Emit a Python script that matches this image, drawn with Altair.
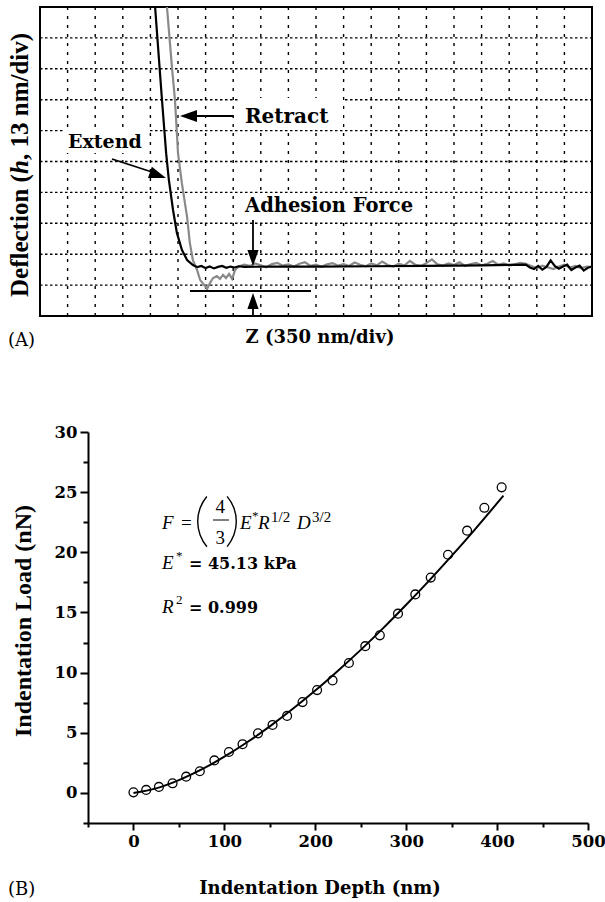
import altair as alt
import pandas as pd

# ---------------- Panel A: AFM force curve (grid divisions) ----------------
# Z in divisions (350 nm/div), deflection in divisions (13 nm/div)
extend_z = [4.17, 4.42, 4.57, 4.67, 4.82, 4.96, 5.14, 5.33, 5.54, 5.70, 5.85, 6.00,
            6.15, 6.30, 6.45, 6.60, 6.75, 6.90, 7.05, 7.20, 7.40, 8.50, 10.0, 12.0,
            14.0, 16.0, 17.60, 17.75, 17.90, 18.05, 18.20, 18.35, 18.50, 18.65, 18.80,
            18.95, 19.10, 19.25, 19.40, 19.55, 19.70, 19.85, 20.0]
extend_defl = [10.0, 6.99, 5.27, 4.40, 3.43, 2.69, 2.14, 1.81, 1.65, 1.58, 1.62, 1.55,
               1.60, 1.54, 1.59, 1.62, 1.56, 1.60, 1.57, 1.61, 1.59, 1.60, 1.60, 1.61,
               1.62, 1.64, 1.66, 1.57, 1.52, 1.62, 1.50, 1.59, 1.80, 1.62, 1.53,
               1.60, 1.66, 1.49, 1.57, 1.63, 1.47, 1.56, 1.60]

retract_z = [4.60, 4.78, 4.89, 4.96, 5.00, 5.14, 5.33, 5.43, 5.54, 5.69, 5.80, 5.98,
             6.05, 6.16, 6.27, 6.41, 6.52, 6.63, 6.74, 6.85, 6.96, 7.07,
             7.2, 7.4, 7.6, 7.8, 8.0, 8.2, 8.4, 8.6, 8.8, 9.0, 9.2, 9.4, 9.6, 9.8,
             10.0, 10.2, 10.4, 10.6, 10.8, 11.0, 11.2, 11.4, 11.6, 11.8, 12.0, 12.2,
             12.4, 12.6, 12.8, 13.0, 13.2, 13.4, 13.6, 13.8, 14.0, 14.2, 14.4, 14.6,
             14.8, 15.0, 15.2, 15.4, 15.6, 15.8, 16.0, 16.2, 16.4, 16.6, 16.8, 17.0,
             17.2, 17.4, 17.6, 17.8, 18.0, 18.2, 18.4, 18.6, 18.8, 19.0, 19.2, 19.4,
             19.6, 19.8, 20.0]
retract_defl = [10.0, 8.06, 6.99, 5.92, 5.27, 4.30, 3.20, 2.36, 1.81, 1.49, 1.17, 0.97,
                0.87, 1.07, 1.23, 1.29, 1.20, 1.33, 1.23, 1.36, 1.20, 1.49,
                1.60, 1.66, 1.62, 1.70, 1.64, 1.58, 1.68, 1.72, 1.63, 1.67, 1.60, 1.69,
                1.74, 1.62, 1.66, 1.59, 1.67, 1.71, 1.63, 1.68, 1.62, 1.73, 1.66, 1.61,
                1.70, 1.64, 1.76, 1.65, 1.60, 1.69, 1.63, 1.78, 1.66, 1.62, 1.71, 1.83,
                1.67, 1.63, 1.70, 1.65, 1.74, 1.62, 1.68, 1.72, 1.64, 1.69, 1.78, 1.66,
                1.70, 1.63, 1.67, 1.72, 1.69, 1.62, 1.55, 1.63, 1.58, 1.52, 1.60, 1.66,
                1.57, 1.62, 1.55, 1.60, 1.58]

grid_z = [1, 2, 3, 4, 5, 6, 7, 8, 9, 10, 11, 12, 13, 14, 15, 16, 17, 18, 19]
grid_defl = [1, 2, 3, 4, 5, 6, 7, 8, 9]

# ---------------- Panel B: indentation load vs depth ----------------
depth_nm = [0, 14, 28, 43, 58, 73, 89, 105, 120, 137, 153, 169, 186, 202, 219, 237,
            255, 271, 291, 310, 327, 346, 367, 386, 405]
load_nN = [0.05, 0.25, 0.5, 0.8, 1.35, 1.8, 2.7, 3.4, 4.05, 4.95, 5.65, 6.4, 7.55,
           8.55, 9.35, 10.8, 12.2, 13.1, 14.9, 16.5, 17.9, 19.8, 21.8, 23.7, 25.4]
fit_depth = [0, 25, 50, 75, 100, 125, 150, 175, 200, 225, 250, 275, 300, 325, 350,
             375, 407]
fit_load = [0.0, 0.38, 1.06, 1.95, 3.01, 4.21, 5.53, 6.97, 8.51, 10.16, 11.89, 13.72,
            15.64, 17.63, 19.70, 21.85, 24.71]

x_major = [0, 100, 200, 300, 400, 500]
x_minor = [-50, 50, 150, 250, 350, 450]
y_major = [0, 5, 10, 15, 20, 25, 30]
y_minor = [-2.5, 2.5, 7.5, 12.5, 17.5, 22.5, 27.5]

DJ = "DejaVu Serif"
LIB = "Liberation Serif"
ONE = pd.DataFrame({"a": [0]})

xA = alt.Scale(domain=[0, 20], range=[40, 592], nice=False, zero=False)
yA = alt.Scale(domain=[0, 10], range=[316, 7], nice=False, zero=False)
xB = alt.Scale(domain=[-50, 500], range=[88, 588], nice=False, zero=False)
yB = alt.Scale(domain=[-2.5, 30], range=[823, 432], nice=False, zero=False)


def XA(f):
    return alt.X(f, type="quantitative", scale=xA, axis=None)


def YA(f):
    return alt.Y(f, type="quantitative", scale=yA, axis=None)


def label(s, x, y, size, font=DJ, weight="normal", style="normal",
          align="left", baseline="alphabetic", angle=0):
    kw = dict(font=font, fontSize=size, fontWeight=weight, fontStyle=style,
              align=align, baseline=baseline, color="black")
    if angle:
        kw["angle"] = angle
    return alt.Chart(ONE).mark_text(**kw).encode(
        x=alt.value(x), y=alt.value(y), text=alt.value(s))


def box(x1, x2, y1, y2):
    return alt.Chart(ONE).mark_rect(color="white").encode(
        x=alt.value(x1), x2=alt.value(x2), y=alt.value(y1), y2=alt.value(y2))


def seg(x1, y1, x2, y2, w=1.8):
    return alt.Chart(ONE).mark_rule(color="black", strokeWidth=w).encode(
        x=alt.value(x1), y=alt.value(y1), x2=alt.value(x2), y2=alt.value(y2))


HEAD = "M0,0 L-2,-0.7 L-2,0.7 Z"


def head(x, y, ang, size=289):
    kw = dict(shape=HEAD, filled=True, color="black", size=size, opacity=1)
    if ang:
        kw["angle"] = ang
    return alt.Chart(ONE).mark_point(**kw).encode(x=alt.value(x), y=alt.value(y))


# ---- Panel A layers ----
vgrid = alt.Chart(pd.DataFrame({"g": grid_z, "lo": 0, "hi": 10})).mark_rule(
    color="black", strokeWidth=1.4, strokeDash=[3, 6]).encode(
    x=XA("g"), y=YA("lo"), y2="hi")
hgrid = alt.Chart(pd.DataFrame({"g": grid_defl, "lo": 0, "hi": 20})).mark_rule(
    color="black", strokeWidth=1.4, strokeDash=[2.5, 2.5]).encode(
    y=YA("g"), x=XA("lo"), x2="hi")
frame = alt.Chart(pd.DataFrame({"x0": [0], "x1": [20], "y0": [0], "y1": [10]})).mark_rect(
    fillOpacity=0, stroke="black", strokeWidth=2).encode(
    x=XA("x0"), x2="x1", y=YA("y0"), y2="y1")

ret = alt.Chart(pd.DataFrame({"z": retract_z, "d": retract_defl,
                              "i": list(range(len(retract_z)))})).mark_line(
    color="#8a8a8a", strokeWidth=2.2).encode(x=XA("z"), y=YA("d"), order="i:Q")
ext = alt.Chart(pd.DataFrame({"z": extend_z, "d": extend_defl,
                              "i": list(range(len(extend_z)))})).mark_line(
    color="black", strokeWidth=2.2).encode(x=XA("z"), y=YA("d"), order="i:Q")

panelA = alt.layer(
    vgrid, hgrid,
    box(64, 149, 129, 153), box(238, 343, 98, 128), box(240, 415, 196, 220),
    frame, ret, ext,
    seg(190, 291, 311, 291),
    seg(112, 159, 152, 172), head(166, 178, 19),
    seg(233, 116, 194, 116), head(180, 116, 180),
    seg(253, 220, 253, 252), head(253, 266, 90, 256),
    seg(253, 316, 253, 306), head(253, 293, 270, 256),
)

# ---- Panel B layers ----
axis_common = dict(tickColor="black", tickWidth=2, domainColor="black", domainWidth=2,
                   grid=False, title=None, labelFont=DJ, labelFontWeight="bold",
                   labelFontSize=16.5, labelColor="black", labelOverlap=False,
                   labelFlush=False)
axXmaj = alt.Axis(orient="bottom", offset=-79, values=x_major, format="d",
                  tickSize=7, labelPadding=3, **axis_common)
axYmaj = alt.Axis(orient="left", offset=-88, values=y_major, format="d",
                  tickSize=8, labelPadding=3, **axis_common)
axXmin = alt.Axis(orient="bottom", offset=-79, values=x_minor, labels=False,
                  domain=False, tickSize=4, tickColor="black", tickWidth=2,
                  grid=False, title=None)
axYmin = alt.Axis(orient="left", offset=-88, values=y_minor, labels=False,
                  domain=False, tickSize=5, tickColor="black", tickWidth=2,
                  grid=False, title=None)

fit = alt.Chart(pd.DataFrame({"d": fit_depth, "f": fit_load})).mark_line(
    color="black", strokeWidth=2, interpolate="monotone").encode(
    x=alt.X("d:Q", scale=xB, axis=axXmin), y=alt.Y("f:Q", scale=yB, axis=axYmin))
pts = alt.Chart(pd.DataFrame({"d": depth_nm, "f": load_nN})).mark_point(
    shape="circle", filled=False, color="black", size=78, strokeWidth=1.3,
    opacity=1).encode(
    x=alt.X("d:Q", scale=xB, axis=axXmaj), y=alt.Y("f:Q", scale=yB, axis=axYmaj))

panelB = alt.layer(fit, pts).resolve_axis(x="independent", y="independent")

# ---- Text ----
texts = [
    label("Extend", 68, 148, 19, weight="bold"),
    label("Retract", 245, 123, 20, weight="bold"),
    label("Adhesion Force", 245, 212, 19.5, weight="bold"),
    label("Z (350 nm/div)", 320, 343, 18, weight="bold", align="center"),
    label("(A)", 8, 346, 18),
    label("Deflection (", 28, 297, 25, font=LIB, weight="bold", angle=270),
    label("h", 28, 174, 25, font=LIB, weight="bold", style="italic", angle=270),
    label(", 13 nm/div)", 28, 160, 25, font=LIB, weight="bold", angle=270),
    label("Indentation Depth (nm)", 320, 894, 18, weight="bold", align="center"),
    label("(B)", 8, 895, 18),
    label("Indentation Load (nN)", 31, 621, 24, font=LIB, weight="bold",
          align="center", angle=270),
    # equation
    label("F", 162, 529, 19, font=LIB, style="italic"),
    label("=", 181, 529, 19, font=LIB),
    label("4", 215.5, 512.5, 19, font=LIB),
    label("3", 215.5, 543.5, 19, font=LIB),
    label("E", 240, 529, 19, font=LIB, style="italic"),
    label("*", 252, 520, 13, font=LIB),
    label("R", 258, 529, 19, font=LIB, style="italic"),
    label("1/2", 271, 522, 15, font=LIB),
    label("D", 297, 529, 19, font=LIB, style="italic"),
    label("3/2", 312, 522, 15, font=LIB),
    label("E", 162, 569, 19, font=LIB, style="italic"),
    label("*", 176, 560, 13, font=LIB),
    label("= 45.13 kPa", 189, 569, 16, weight="bold"),
    label("R", 162, 613, 19, font=LIB, style="italic"),
    label("2", 176, 604, 13, font=LIB),
    label("= 0.999", 189, 613, 16, weight="bold"),
    seg(213, 520, 229, 520, 1),
    alt.Chart(ONE).mark_arc(radius=39.7, radius2=38.3, theta=4.01, theta2=5.41,
                            color="black").encode(x=alt.value(236.7), y=alt.value(521.5)),
    alt.Chart(ONE).mark_arc(radius=39.7, radius2=38.3, theta=0.87, theta2=2.27,
                            color="black").encode(x=alt.value(197.3), y=alt.value(521.5)),
]

chart = alt.layer(panelA, panelB, *texts).resolve_scale(
    x="independent", y="independent").properties(
    width=605, height=902, padding=0,
    autosize=alt.AutoSizeParams(type="none"), background="white"
).configure_view(stroke=None)

chart.save("out.html", embed_options={"renderer": "svg", "actions": False})
